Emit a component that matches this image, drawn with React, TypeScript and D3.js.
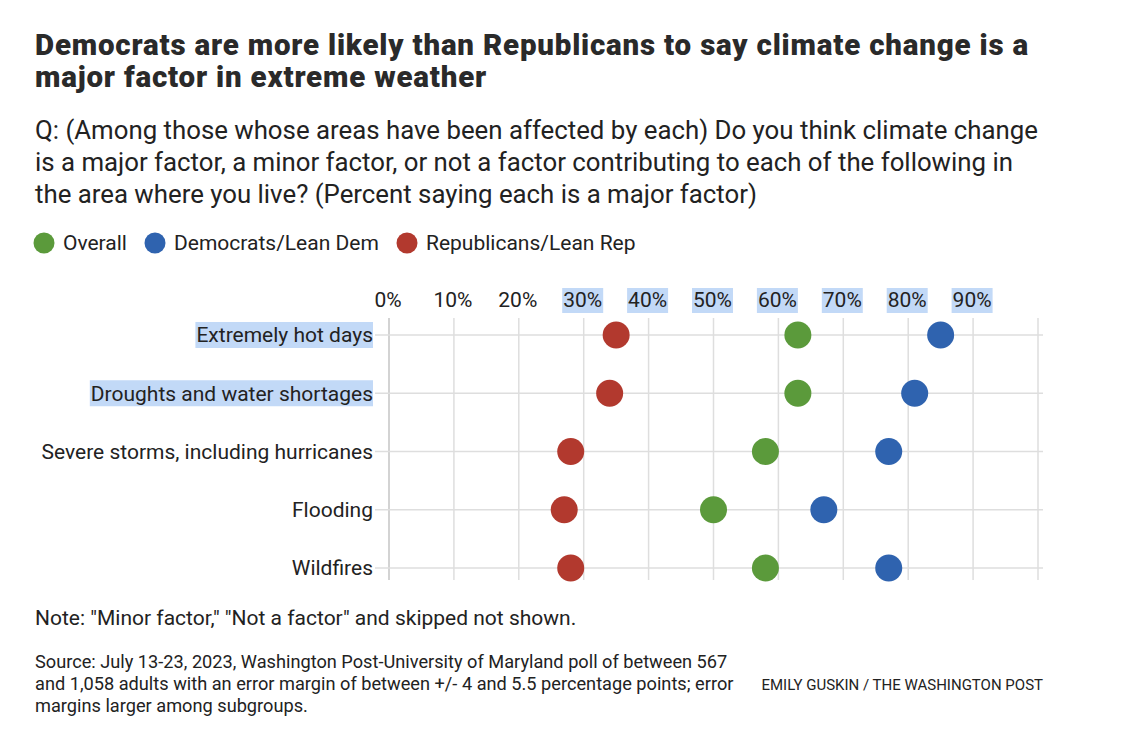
import * as d3 from "d3";
import { useEffect, useRef } from "react";

const categories = [
  "Extremely hot days",
  "Droughts and water shortages",
  "Severe storms, including hurricanes",
  "Flooding",
  "Wildfires",
];
const overall = [63, 63, 58, 50, 58];
const democrats = [85, 81, 77, 67, 77];
const republicans = [35, 34, 28, 27, 28];
const tickValues = [0, 10, 20, 30, 40, 50, 60, 70, 80, 90];
const highlightedTicks = [30, 40, 50, 60, 70, 80, 90];
const highlightedCategories = ["Extremely hot days", "Droughts and water shortages"];

const seriesNames = ["Overall", "Democrats/Lean Dem", "Republicans/Lean Rep"];
const seriesColors = ["#5b9a3b", "#2f63af", "#b2392e"];

const titleLines = [
  "Democrats are more likely than Republicans to say climate change is a",
  "major factor in extreme weather",
];
const subtitleLines = [
  "Q: (Among those whose areas have been affected by each) Do you think climate change",
  "is a major factor, a minor factor, or not a factor contributing to each of the following in",
  "the area where you live? (Percent saying each is a major factor)",
];
const sourceLines = [
  "Source: July 13-23, 2023, Washington Post-University of Maryland poll of between 567",
  "and 1,058 adults with an error margin of between +/- 4 and 5.5 percentage points; error",
  "margins larger among subgroups.",
];

const W = 1138;
const H = 744;
const FONT = "Roboto, 'Noto Sans', sans-serif";
const HL = "#c2d9f7";

export default function App() {
  const ref = useRef<SVGSVGElement | null>(null);

  useEffect(() => {
    if (!ref.current) return;
    const svg = d3.select(ref.current);
    svg.selectAll("*").remove();
    svg.style("font-family", FONT);

    const x = d3.scaleLinear().domain([0, 100]).range([389, 1038]);
    const y = d3.scalePoint<string>().domain(categories).range([335, 568]);

    // title
    svg.append("g")
      .selectAll("text")
      .data(titleLines)
      .join("text")
      .attr("x", 35)
      .attr("y", (_, i) => 55 + i * 32)
      .attr("font-size", 29.5)
      .attr("font-weight", 900)
      .attr("letter-spacing", 0.8)
      .attr("fill", "#2a2a2a")
      .text((d) => d);

    svg.append("g")
      .selectAll("text")
      .data(subtitleLines)
      .join("text")
      .attr("x", 35)
      .attr("y", (_, i) => 139 + i * 32)
      .attr("font-size", 25.8)
      .attr("fill", "#222")
      .text((d) => d);

    // legend
    const legendX = [44, 155, 407];
    const lg = svg.append("g")
      .selectAll("g")
      .data(seriesNames)
      .join("g")
      .attr("transform", (_, i) => `translate(${legendX[i]},243)`);
    lg.append("circle").attr("r", 10.5).attr("fill", (_, i) => seriesColors[i]);
    lg.append("text")
      .attr("x", 19)
      .attr("dy", "0.35em")
      .attr("font-size", 21)
      .attr("fill", "#222")
      .text((d) => d);

    // grid
    const grid = svg.append("g");
    grid.selectAll("line.v")
      .data(d3.range(0, 101, 10))
      .join("line")
      .attr("x1", (d) => x(d))
      .attr("x2", (d) => x(d))
      .attr("y1", 318)
      .attr("y2", 580)
      .attr("stroke", (d) => (d === 0 ? "#c4c4c4" : "#dedede"))
      .attr("stroke-width", 1.5);
    grid.selectAll("line.h")
      .data(categories)
      .join("line")
      .attr("x1", x(0) - 14)
      .attr("x2", x(100) + 5)
      .attr("y1", (d) => y(d)!)
      .attr("y2", (d) => y(d)!)
      .attr("stroke", "#dedede")
      .attr("stroke-width", 1.5);

    // tick labels
    const ticks = svg.append("g")
      .selectAll("g")
      .data(tickValues)
      .join("g")
      .attr("transform", (d) => `translate(${x(d) - 1},300)`);
    ticks.append("text")
      .attr("text-anchor", "middle")
      .attr("dy", "0.35em")
      .attr("font-size", 21)
      .attr("fill", "#222")
      .text((d) => `${d}%`);
    ticks.each(function (d) {
      if (!highlightedTicks.includes(d)) return;
      const g = d3.select(this);
      const bb = (g.select("text").node() as SVGTextElement).getBBox();
      g.insert("rect", "text")
        .attr("x", bb.x - 1)
        .attr("y", -12)
        .attr("width", bb.width + 2)
        .attr("height", 25)
        .attr("fill", HL);
    });

    // category labels
    const labels = svg.append("g")
      .selectAll("g")
      .data(categories)
      .join("g")
      .attr("transform", (d) => `translate(373,${y(d)})`);
    labels.append("text")
      .attr("text-anchor", "end")
      .attr("dy", "0.35em")
      .attr("font-size", 21)
      .attr("fill", "#222")
      .text((d) => d);
    labels.each(function (d) {
      if (!highlightedCategories.includes(d)) return;
      const g = d3.select(this);
      const bb = (g.select("text").node() as SVGTextElement).getBBox();
      g.insert("rect", "text")
        .attr("x", bb.x - 1)
        .attr("y", -13)
        .attr("width", bb.width + 1)
        .attr("height", 26)
        .attr("fill", HL);
    });

    // dots
    const seriesValues = [overall, democrats, republicans];
    seriesValues.forEach((vals, s) => {
      svg.append("g")
        .selectAll("circle")
        .data(categories)
        .join("circle")
        .attr("cx", (_, i) => x(vals[i]))
        .attr("cy", (d) => y(d)!)
        .attr("r", 13.5)
        .attr("fill", seriesColors[s]);
    });

    // notes
    svg.append("text")
      .attr("x", 35)
      .attr("y", 625)
      .attr("font-size", 21)
      .attr("fill", "#222")
      .text('Note: "Minor factor," "Not a factor" and skipped not shown.');

    svg.append("g")
      .selectAll("text")
      .data(sourceLines)
      .join("text")
      .attr("x", 35)
      .attr("y", (_, i) => 668 + i * 22)
      .attr("font-size", 18.2)
      .attr("fill", "#222")
      .text((d) => d);

    svg.append("text")
      .attr("x", 1043)
      .attr("y", 690)
      .attr("text-anchor", "end")
      .attr("font-size", 15)
      .attr("fill", "#222")
      .text("EMILY GUSKIN / THE WASHINGTON POST");
  }, []);

  return (
    <div style={{ position: "absolute", left: 0, top: 0, background: "#fff" }}>
      <svg ref={ref} width={W} height={H} style={{ display: "block" }}></svg>
    </div>
  );
}
